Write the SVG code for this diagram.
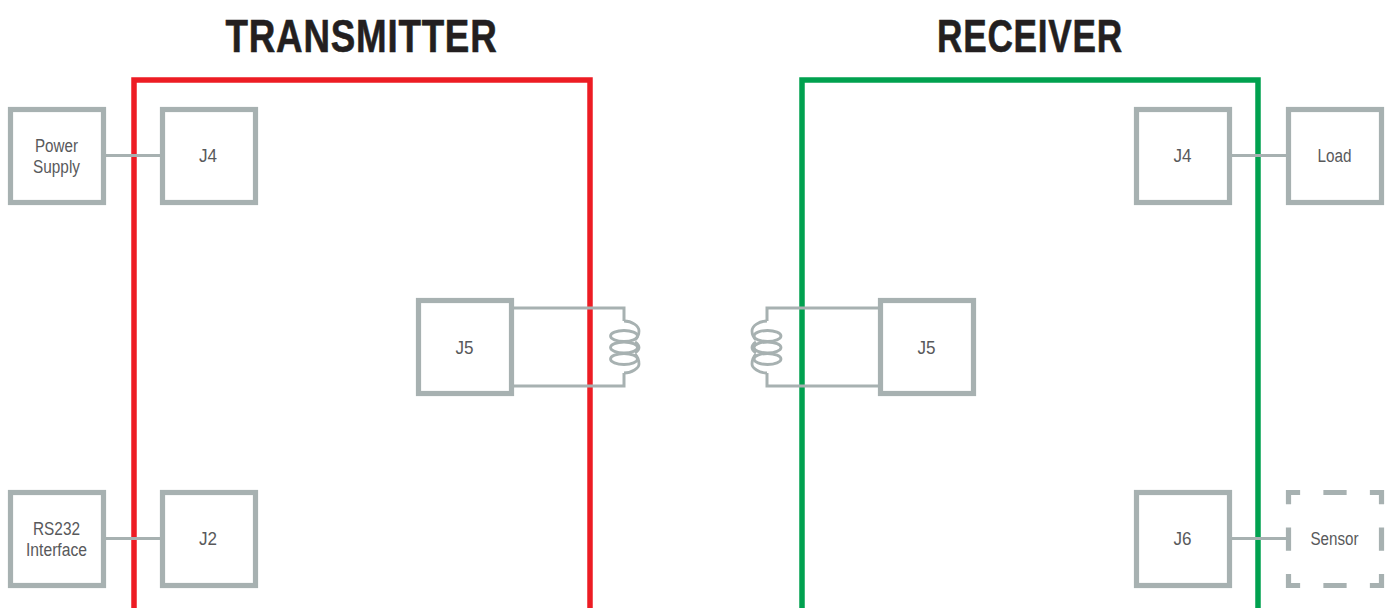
<svg xmlns="http://www.w3.org/2000/svg" width="1392" height="608" viewBox="0 0 1392 608">
<style>
text{font-family:"Liberation Sans",Arial,sans-serif;text-anchor:middle}
.t{font-size:46px;font-weight:700;fill:#231f20;stroke:#231f20;stroke-width:.6;letter-spacing:1px}
.l{font-size:18px;fill:#58595b}
.b{fill:#fff;stroke:#a7b1b1;stroke-width:5.200}
.d{stroke-dasharray:23.25 23.25;stroke-dashoffset:11.625}
.w{fill:none;stroke:#a7b1b1;stroke-width:3}
.c{fill:none;stroke:#a7b1b1;stroke-width:2.800}
.f{fill:none;stroke-width:5.500}
</style>
<rect width="1392" height="608" fill="#fff"/>
<g id="titles">
<text class="t" x="361.500" y="51.500" textLength="272" lengthAdjust="spacingAndGlyphs">TRANSMITTER</text>
<text class="t" x="1030" y="51.500" textLength="186" lengthAdjust="spacingAndGlyphs">RECEIVER</text>
</g>
<g id="transmitter-frame"><path class="f" stroke="#ed1c24" d="M134 608V80H590V608"/></g>
<g id="receiver-frame"><path class="f" stroke="#00a14f" d="M802 608V80H1258V608"/></g>
<g id="connectors">
<path class="w" d="M104 155.500H161M104 538.500H161M1231 155.500H1287M1231 538.500H1287"/>
<path class="w" d="M513 308H624V321M513 386H624V373"/>
<path class="c" d="M624 321C632 321 639 326 639 331C639 335 637 338 635 340M624 373C632 373 639 368 639 364C639 360 637 356 635 354M635 342C638 344 639 345 639 347.500C639 350 638 351 635 353"/>
<ellipse class="c" cx="624" cy="336" rx="13.500" ry="5.500"/>
<ellipse class="c" cx="624" cy="347.500" rx="13.500" ry="5.500"/>
<ellipse class="c" cx="624" cy="359" rx="13.500" ry="5.500"/>
<path class="w" d="M879 308H767V321M879 386H767V373"/>
<path class="c" d="M767 321C759 321 752 326 752 331C752 335 754 338 756 340M767 373C759 373 752 368 752 364C752 360 754 356 756 354M756 342C753 344 752 345 752 347.500C752 350 753 351 756 353"/>
<ellipse class="c" cx="767.500" cy="336" rx="13.500" ry="5.500"/>
<ellipse class="c" cx="767.500" cy="347.500" rx="13.500" ry="5.500"/>
<ellipse class="c" cx="767.500" cy="359" rx="13.500" ry="5.500"/>
</g>
<g id="power-supply"><rect class="b" x="10.500" y="109.500" width="93" height="93"/>
<text class="l" x="56.500" y="151.500" textLength="43" lengthAdjust="spacingAndGlyphs">Power</text>
<text class="l" x="56.500" y="173" textLength="47" lengthAdjust="spacingAndGlyphs">Supply</text></g>
<g id="tx-j4"><rect class="b" x="162.500" y="109.500" width="93" height="93"/>
<text class="l" x="208" y="162" textLength="18" lengthAdjust="spacingAndGlyphs">J4</text></g>
<g id="rs232"><rect class="b" x="10.500" y="492.500" width="93" height="93"/>
<text class="l" x="56.500" y="534.500" textLength="47" lengthAdjust="spacingAndGlyphs">RS232</text>
<text class="l" x="56.500" y="556" textLength="61" lengthAdjust="spacingAndGlyphs">Interface</text></g>
<g id="tx-j2"><rect class="b" x="162.500" y="492.500" width="93" height="93"/>
<text class="l" x="208" y="545" textLength="18" lengthAdjust="spacingAndGlyphs">J2</text></g>
<g id="tx-j5"><rect class="b" x="418.500" y="300.500" width="93" height="93"/>
<text class="l" x="464.500" y="354" textLength="18" lengthAdjust="spacingAndGlyphs">J5</text></g>
<g id="rx-j5"><rect class="b" x="880.500" y="300.500" width="93" height="93"/>
<text class="l" x="926.500" y="354" textLength="18" lengthAdjust="spacingAndGlyphs">J5</text></g>
<g id="rx-j4"><rect class="b" x="1136.500" y="109.500" width="93" height="93"/>
<text class="l" x="1182.500" y="162" textLength="18" lengthAdjust="spacingAndGlyphs">J4</text></g>
<g id="load"><rect class="b" x="1288.500" y="109.500" width="93" height="93"/>
<text class="l" x="1334.500" y="162" textLength="34" lengthAdjust="spacingAndGlyphs">Load</text></g>
<g id="rx-j6"><rect class="b" x="1136.500" y="492.500" width="93" height="93"/>
<text class="l" x="1182.500" y="545" textLength="18" lengthAdjust="spacingAndGlyphs">J6</text></g>
<g id="sensor"><rect class="b d" x="1288.500" y="492.500" width="93" height="93"/>
<text class="l" x="1334.500" y="545" textLength="48" lengthAdjust="spacingAndGlyphs">Sensor</text></g>
</svg>
